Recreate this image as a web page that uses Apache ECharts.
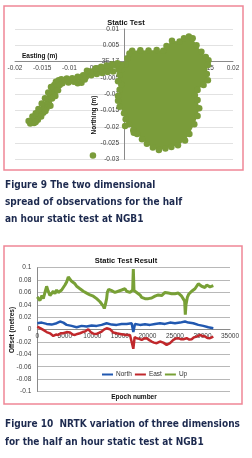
<!DOCTYPE html>
<html><head><meta charset="utf-8">
<script src="https://cdn.jsdelivr.net/npm/echarts@6/dist/echarts.min.js"></script>
<style>html,body{margin:0;padding:0;background:#fff;}#c{width:252px;height:458px;}</style>
</head><body><div id="c"></div>
<script>
// ---------- Figure 9 : 2D spread (Easting / Northing, metres) ----------
const blobOutline = [
  [0.0015,0.0033],[0.003,0.0035],[0.0045,0.0034],[0.006,0.0036],[0.0072,0.0033],[0.0078,0.0048],
  [0.0088,0.0064],[0.0102,0.0062],[0.011,0.0072],[0.0119,0.0077],[0.0126,0.0072],[0.0133,0.005],
  [0.0142,0.003],[0.015,0.0014],[0.0155,0.0004],[0.0154,-0.001],[0.0152,-0.0038],[0.0154,-0.0057],
  [0.0146,-0.0072],[0.0135,-0.0087],[0.013,-0.0103],[0.0135,-0.0118],[0.0138,-0.0143],[0.0135,-0.0167],
  [0.0129,-0.0192],[0.012,-0.0222],[0.0112,-0.0242],[0.0099,-0.0256],[0.0087,-0.0262],[0.0076,-0.0266],
  [0.0064,-0.0271],[0.0053,-0.0263],[0.0042,-0.0252],[0.0033,-0.0238],[0.0024,-0.0222],[0.0017,-0.021],
  [0.0009,-0.0192],[0.0003,-0.0177],[0.0,-0.0158],[-0.0008,-0.0138],[-0.0011,-0.012],[-0.0011,-0.0105],
  [-0.0008,-0.0086],[-0.0005,-0.0071],[-0.0011,-0.006],[-0.0008,-0.004],[-0.0003,-0.0024],[0.0003,-0.0008],
  [0.0006,0.001],[0.001,0.0025]
];
const tailPoints = [
  [-0.0005,-0.001],[-0.001,-0.0025],[-0.0015,-0.0012],[-0.002,-0.003],[-0.0025,-0.0017],[-0.003,-0.0032],
  [-0.0035,-0.002],[-0.004,-0.0035],[-0.0045,-0.0024],[-0.005,-0.0038],[-0.0055,-0.0029],[-0.006,-0.0042],
  [-0.0065,-0.0036],[-0.007,-0.0047],[-0.0075,-0.0042],[-0.008,-0.005],[-0.0085,-0.0046],[-0.009,-0.0055],
  [-0.0095,-0.0051],[-0.01,-0.0056],[-0.0105,-0.0052],[-0.011,-0.0058],[-0.0115,-0.0054],[-0.012,-0.0057],
  [-0.0125,-0.0062],[-0.0085,-0.0066],[-0.0078,-0.0065],[-0.0128,-0.0072],[-0.0124,-0.0078],[-0.013,-0.0085],
  [-0.0127,-0.0093],[-0.0133,-0.01],[-0.0136,-0.0108],[-0.0132,-0.0113],[-0.014,-0.0118],[-0.0138,-0.0125],
  [-0.0143,-0.0131],[-0.0147,-0.0138],[-0.0142,-0.0142],[-0.0149,-0.0146],[-0.0152,-0.0153],[-0.0148,-0.0157],
  [-0.0155,-0.016],[-0.0158,-0.0166],[-0.0161,-0.017],[-0.0164,-0.0176],[-0.0167,-0.018],[-0.017,-0.0187],
  [-0.0165,-0.0188],[-0.0172,-0.019],
  [-0.0012,-0.0005],[-0.0022,-0.0008],[-0.0032,-0.0012],[-0.0042,-0.0016],[-0.0052,-0.002],[-0.0062,-0.003],
  [-0.0068,-0.0028],[-0.0072,-0.0055],[-0.0092,-0.0062],[-0.0102,-0.0064],[-0.0113,-0.0066],[-0.0118,-0.0072],
  [-0.0134,-0.0078],[-0.0121,-0.0088],[-0.0139,-0.0095],[-0.0126,-0.0105],[-0.0145,-0.0112],[-0.0151,-0.0128],
  [-0.0135,-0.0135],[-0.0157,-0.0145],[-0.0144,-0.0151],[-0.0162,-0.0158],[-0.0152,-0.0168],[-0.0168,-0.0168],
  [-0.0158,-0.0178],[-0.0175,-0.0182],[-0.0162,-0.0185]
];
const outlierPoints = [[-0.0057,-0.0288],[0.0018,-0.0218],[0.0002,-0.0197]];
const eastTicks = [-0.02,-0.015,-0.01,-0.005,0,0.005,0.01,0.015,0.02];
const northTicks = [0.01,0.005,0,-0.005,-0.01,-0.015,-0.02,-0.025,-0.03];

// ---------- Figure 10 : NRTK offsets vs epoch ----------
const upEpochs = [0,484,848,1090,1453,1695,1938,2300,2604,2906,3209,3512,3815,4117,4420,4723,5026,5328,5631,5934,6237,6540,6842,7145,7448,7750,8053,8356,8659,8961,9264,9567,9870,10172,10475,10778,11080,11383,11686,11989,12170,12352,12594,12716,12958,13200,13503,13806,14108,14411,14714,15016,15320,15622,15925,16228,16530,16833,17136,17318,17440,17560,17742,18044,18347,18650,18952,19255,19558,19860,20163,20466,20768,21071,21374,21677,21980,22282,22585,22888,23190,23493,23796,24100,24400,24705,25007,25310,25612,25915,26218,26520,26763,26884,27005,27247,27490,27732,28035,28337,28640,28943,29245,29548,29850,30153,30456,30760,31062,31365,31667,31970];
const upValues = [0.053,0.047,0.055,0.05,0.062,0.07,0.063,0.055,0.058,0.062,0.058,0.064,0.06,0.058,0.064,0.068,0.072,0.077,0.085,0.082,0.078,0.076,0.074,0.07,0.069,0.066,0.064,0.062,0.063,0.059,0.06,0.056,0.057,0.054,0.053,0.05,0.049,0.045,0.044,0.038,0.034,0.04,0.05,0.06,0.065,0.066,0.063,0.065,0.06,0.058,0.062,0.06,0.064,0.062,0.066,0.062,0.063,0.06,0.062,0.064,0.098,0.063,0.062,0.06,0.058,0.056,0.052,0.055,0.05,0.048,0.05,0.047,0.051,0.052,0.054,0.052,0.056,0.058,0.055,0.058,0.06,0.062,0.059,0.056,0.058,0.055,0.058,0.056,0.059,0.057,0.054,0.052,0.046,0.024,0.04,0.052,0.057,0.06,0.062,0.064,0.066,0.07,0.074,0.072,0.07,0.071,0.068,0.072,0.07,0.069,0.072,0.071];
const northEpochs = [0,787,1695,2604,3512,4117,4723,5328,6237,7145,8053,8961,9870,10778,11686,12594,13503,14411,15320,16228,17136,17440,17742,18650,19558,20466,21374,22282,23190,24100,25007,25915,26823,27430,28337,29245,30153,31062,31970];
const northValues = [0.0103,0.0113,0.0092,0.0081,0.0103,0.013,0.0113,0.0076,0.006,0.0038,0.006,0.0049,0.0065,0.006,0.0076,0.0103,0.0081,0.0076,0.0092,0.0092,0.0103,-0.004,0.0092,0.0076,0.0086,0.0076,0.0092,0.0103,0.0092,0.0113,0.0103,0.0113,0.013,0.0113,0.0103,0.0076,0.006,0.0038,0.0022];
const eastEpochs = [0,605,1090,1695,2300,2906,3391,3815,4238,4723,5328,5934,6418,6842,7266,7750,8235,8659,9264,9688,10172,10778,11262,11686,12110,12594,13200,13806,14411,15016,15622,16228,16833,17196,17440,17680,18044,18530,18952,19376,19860,20345,20768,21193,21677,22282,22888,23493,24100,24705,25128,25612,26036,26520,27126,27611,28035,28460,28943,29548,30032,30456,30880,31365,31970];
const eastValues = [0.0049,0.002,-0.0005,-0.004,-0.006,-0.0102,-0.008,-0.0086,-0.006,-0.0059,-0.004,-0.0048,-0.008,-0.0086,-0.007,-0.0059,-0.004,-0.0032,0.0006,-0.004,-0.0065,-0.007,-0.005,-0.0032,0.0,0.0022,0.0006,-0.0048,-0.006,-0.007,-0.008,-0.0086,-0.0086,-0.009,-0.031,-0.012,-0.0139,-0.015,-0.0166,-0.0145,-0.0139,-0.017,-0.0193,-0.021,-0.022,-0.0193,-0.021,-0.0247,-0.022,-0.0166,-0.0145,-0.0139,-0.0155,-0.0155,-0.0139,-0.016,-0.0155,-0.0125,-0.0113,-0.0086,-0.0105,-0.011,-0.0135,-0.0139,-0.0113];
const seriesNames = ['North','East','Up'];

const pair = (xs, ys) => xs.map((x, i) => [x, ys[i]]);
const fmt = v => String(parseFloat((+v).toFixed(4)));
const GREEN = '#7a9c3a';
const labelFont = 'Liberation Sans';
const capFont = '"Liberation Sans Narrow","DejaVu Sans Condensed",sans-serif';

const chart = echarts.init(document.getElementById('c'), null, {renderer: 'canvas'});
chart.setOption({
  animation: false,
  backgroundColor: '#fff',
  textStyle: {fontFamily: labelFont},
  title: [
    {text: 'Static Test', left: 'center', top: 14, textStyle: {fontSize: 7.5, fontWeight: 'bold', color: '#111', fontFamily: labelFont}},
    {text: 'Static Test Result', left: 'center', top: 252, textStyle: {fontSize: 7.5, fontWeight: 'bold', color: '#111', fontFamily: labelFont}}
  ],
  legend: {
    data: seriesNames, icon: 'rect', itemWidth: 11, itemHeight: 2, itemGap: 3, padding: 0,
    left: 102, top: 371, textStyle: {fontSize: 6.5, color: '#333', padding: [0, 0, 0, -2]}
  },
  grid: [
    {left: 15, right: 19, top: 29, bottom: 298.5, containLabel: false, outerBoundsMode: 'none'},
    {left: 37.3, right: 22, top: 267.7, bottom: 66.5, containLabel: false, outerBoundsMode: 'none'}
  ],
  xAxis: [
    {gridIndex: 0, type: 'value', min: eastTicks[0], max: eastTicks[eastTicks.length - 1], interval: 0.005,
     axisLine: {onZero: false, lineStyle: {color: '#8a8a8a', width: 1}}, axisTick: {show: false},
     splitLine: {show: false},
     axisLabel: {fontSize: 6.5, color: '#404040', margin: 3, formatter: fmt}},
    {gridIndex: 1, type: 'value', min: 0, max: 35000, interval: 5000,
     axisLine: {onZero: false, lineStyle: {color: '#8a8a8a', width: 1}}, axisTick: {show: false},
     splitLine: {show: false},
     axisLabel: {fontSize: 6.5, color: '#404040', margin: 3, formatter: v => String(v)}}
  ],
  yAxis: [
    {gridIndex: 0, type: 'value', min: northTicks[northTicks.length - 1], max: northTicks[0], interval: 0.005,
     axisLine: {onZero: false, lineStyle: {color: '#8a8a8a', width: 1}}, axisTick: {show: false},
     splitLine: {show: true, lineStyle: {color: '#e2e2e2', width: 1}},
     axisLabel: {fontSize: 6.5, color: '#404040', margin: 5, formatter: v => (Math.abs(v) < 1e-9 ? '3E-17' : fmt(v))}},
    {gridIndex: 1, type: 'value', min: -0.1, max: 0.1, interval: 0.02,
     axisLine: {show: true, onZero: false, lineStyle: {color: '#8a8a8a', width: 1}}, axisTick: {show: false},
     splitLine: {show: true, lineStyle: {color: '#b8b8b8', width: 1}},
     axisLabel: {fontSize: 6.5, color: '#404040', margin: 6, formatter: fmt}}
  ],
  series: [
    {type: 'custom', xAxisIndex: 0, yAxisIndex: 0, data: [[0, 0]], z: 2, silent: true,
     renderItem: (params, api) => ({
       type: 'polygon',
       shape: {points: blobOutline.map(p => api.coord(p))},
       style: {fill: GREEN}
     })},
    {type: 'scatter', xAxisIndex: 0, yAxisIndex: 0, symbol: 'circle', symbolSize: 6.5, z: 3,
     itemStyle: {color: GREEN, opacity: 1},
     data: blobOutline.concat(tailPoints, outlierPoints)},
    {name: 'North', type: 'line', xAxisIndex: 1, yAxisIndex: 1, symbol: 'none', z: 3,
     lineStyle: {color: '#2158b0', width: 2.5}, itemStyle: {color: '#2158b0'},
     data: pair(northEpochs, northValues)},
    {name: 'East', type: 'line', xAxisIndex: 1, yAxisIndex: 1, symbol: 'none', z: 4,
     lineStyle: {color: '#c0282c', width: 2.5}, itemStyle: {color: '#c0282c'},
     data: pair(eastEpochs, eastValues)},
    {name: 'Up', type: 'line', xAxisIndex: 1, yAxisIndex: 1, symbol: 'none', z: 5,
     lineStyle: {color: '#78a036', width: 3}, itemStyle: {color: '#78a036'},
     data: pair(upEpochs, upValues)}
  ],
  graphic: [
    {type: 'rect', shape: {x: 4, y: 6, width: 239, height: 164}, style: {fill: null, stroke: '#ef8696', lineWidth: 1.5}, z: 100},
    {type: 'rect', shape: {x: 4, y: 246, width: 238, height: 158}, style: {fill: null, stroke: '#ef8696', lineWidth: 1.5}, z: 100},
    {type: 'text', x: 22, y: 56, style: {text: 'Easting (m)', font: 'bold 6.5px ' + labelFont, fill: '#111', verticalAlign: 'middle'}, z: 1},
    {type: 'text', x: 94, y: 115, rotation: Math.PI / 2, style: {text: 'Northing (m)', font: 'bold 6.5px ' + labelFont, fill: '#111', align: 'center', verticalAlign: 'middle'}, z: 1},
    {type: 'text', x: 12, y: 330, rotation: Math.PI / 2, style: {text: 'Offset (metres)', font: 'bold 6.5px ' + labelFont, fill: '#111', align: 'center', verticalAlign: 'middle'}},
    {type: 'text', x: 134, y: 397, style: {text: 'Epoch number', font: 'bold 6.5px ' + labelFont, fill: '#111', align: 'center', verticalAlign: 'middle'}},
    {type: 'text', x: 5, y: 185, style: {text: 'Figure 9 The two dimensional', font: 'bold 10px ' + capFont, fill: '#1d2a4f', verticalAlign: 'middle'}},
    {type: 'text', x: 5, y: 202, style: {text: 'spread of observations for the half', font: 'bold 10px ' + capFont, fill: '#1d2a4f', verticalAlign: 'middle'}},
    {type: 'text', x: 5, y: 219, style: {text: 'an hour static test at NGB1', font: 'bold 10px ' + capFont, fill: '#1d2a4f', verticalAlign: 'middle'}},
    {type: 'text', x: 5, y: 424, style: {text: 'Figure 10  NRTK variation of three dimensions', font: 'bold 10px ' + capFont, fill: '#1d2a4f', verticalAlign: 'middle'}},
    {type: 'text', x: 5, y: 442, style: {text: 'for the half an hour static test at NGB1', font: 'bold 10px ' + capFont, fill: '#1d2a4f', verticalAlign: 'middle'}}
  ]
});

// Move axes so they cross at the data origin (labels follow the axis line).
const o0 = chart.convertToPixel({gridIndex: 0}, [0, 0]);
const c0 = chart.convertToPixel({gridIndex: 0}, [eastTicks[0], northTicks[northTicks.length - 1]]);
const o1 = chart.convertToPixel({gridIndex: 1}, [0, 0]);
const c1 = chart.convertToPixel({gridIndex: 1}, [0, -0.1]);
chart.setOption({
  xAxis: [{offset: o0[1] - c0[1]}, {offset: o1[1] - c1[1]}],
  yAxis: [{offset: c0[0] - o0[0]}, {}]
});
</script></body></html>
